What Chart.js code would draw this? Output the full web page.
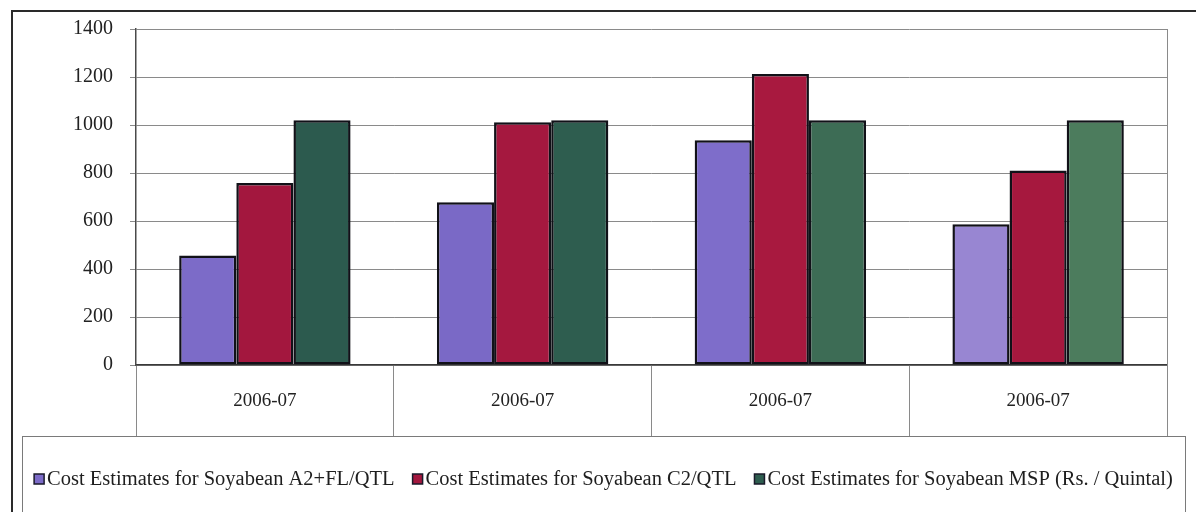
<!DOCTYPE html>
<html>
<head>
<meta charset="utf-8">
<script src="https://cdn.jsdelivr.net/npm/chart.js@4.4.1/dist/chart.umd.min.js"></script>
<style>
  html, body { margin: 0; padding: 0; background: #fff; }
  #wrap { width: 1196px; height: 512px; position: relative; }
</style>
</head>
<body>
<div id="wrap"><canvas id="soyChart" width="1196" height="512"></canvas></div>
<script>
// data
const categories = ['2006-07', '2006-07', '2006-07', '2006-07'];
const seriesNames = [
  'Cost Estimates for Soyabean A2+FL/QTL',
  'Cost Estimates for Soyabean C2/QTL',
  'Cost Estimates for Soyabean MSP (Rs. / Quintal)'
];
const a2flValues = [456, 678, 936, 586];
const c2Values = [758, 1011, 1212, 810];
const mspValues = [1020, 1020, 1020, 1020];
const yTicks = [0, 200, 400, 600, 800, 1000, 1200, 1400];

// colours (scan makes the last groups a bit lighter)
const purpleFill = ['#7c6bc8', '#7a69c6', '#7e6dca', '#9886d2'];
const redFill = ['#a3173e', '#a5183f', '#a8193f', '#a6183e'];
const greenFill = ['#2c5a4e', '#2e5d4f', '#3d6c55', '#4c7c5d'];
const legendSwatch = ['#7c6bc8', '#a3173e', '#2e5d4f'];

const serif = "'Liberation Serif', 'Times New Roman', serif";

// frame, right border and legend box
const framePlugin = {
  id: 'frame',
  afterDraw(chart) {
    const ctx = chart.ctx;
    const area = chart.chartArea;
    const xs = chart.scales.x;
    ctx.save();
    // outer frame (left + top)
    ctx.strokeStyle = '#2a2a2a';
    ctx.lineWidth = 2;
    ctx.beginPath();
    ctx.moveTo(12, 520);
    ctx.lineTo(12, 11);
    ctx.lineTo(1200, 11);
    ctx.stroke();
    // plot right border, down through label band
    ctx.strokeStyle = '#8a8a8a';
    ctx.lineWidth = 1;
    ctx.beginPath();
    ctx.moveTo(area.right + 0.5, area.top);
    ctx.lineTo(area.right + 0.5, xs.bottom);
    ctx.stroke();
    // legend box
    const top = xs.bottom;
    ctx.strokeStyle = '#7a7a7a';
    ctx.strokeRect(22.5, top + 0.5, 1163, 100);

    // legend items
    ctx.font = '20.5px ' + serif;
    ctx.textBaseline = 'middle';
    const box = 10, gapIn = 3, gapOut = 18;
    const widths = seriesNames.map(n => box + gapIn + ctx.measureText(n).width);
    const total = widths.reduce((s, w) => s + w, 0) + gapOut * (widths.length - 1);
    let x = 22 + (1163 - total) / 2;
    const y = 479;
    seriesNames.forEach((name, i) => {
      ctx.fillStyle = legendSwatch[i];
      ctx.fillRect(x, y - box / 2, box, box);
      ctx.strokeStyle = '#1a1a2a';
      ctx.lineWidth = 1.5;
      ctx.strokeRect(x, y - box / 2, box, box);
      ctx.fillStyle = '#1e1e1e';
      ctx.fillText(name, x + box + gapIn, y + 1);
      x += widths[i] + gapOut;
    });
    ctx.restore();
  }
};

const ctx = document.getElementById('soyChart').getContext('2d');

const soyChart = new Chart(ctx, {
  type: 'bar',
  data: {
    labels: categories,
    datasets: [
      { label: seriesNames[0], data: a2flValues, backgroundColor: purpleFill },
      { label: seriesNames[1], data: c2Values, backgroundColor: redFill },
      { label: seriesNames[2], data: mspValues, backgroundColor: greenFill }
    ]
  },
  options: {
    responsive: false,
    animation: false,
    layout: { padding: { left: 0, top: 23, right: 29, bottom: 76 } },
    datasets: {
      bar: {
        categoryPercentage: 0.665,
        barPercentage: 1.0,
        borderColor: '#111118',
        borderWidth: 2.5,
        borderSkipped: false
      }
    },
    plugins: {
      legend: { display: false },
      tooltip: { enabled: false }
    },
    scales: {
      x: {
        grid: {
          offset: true,
          drawOnChartArea: false,
          drawTicks: true,
          tickLength: 71,
          color: '#8a8a8a',
          lineWidth: 1
        },
        border: { color: '#3a3a3a', width: 1.5 },
        ticks: {
          color: '#222',
          font: { family: serif, size: 19 },
          padding: -46,
          autoSkip: false,
          maxRotation: 0
        },
        afterFit(scale) { scale.height = 71; }
      },
      y: {
        min: 0,
        max: 1400,
        afterBuildTicks(scale) { scale.ticks = yTicks.map(v => ({ value: v })); },
        grid: {
          color: '#8a8a8a',
          lineWidth: 1,
          drawTicks: true,
          tickLength: 6
        },
        border: { color: '#4a4a4a', width: 1.5 },
        ticks: {
          color: '#222',
          font: { family: serif, size: 20 },
          padding: 17,
          callback: (v) => String(v)
        },
        afterFit(scale) { scale.width = 136; }
      }
    }
  },
  plugins: [framePlugin]
});
</script>
</body>
</html>
